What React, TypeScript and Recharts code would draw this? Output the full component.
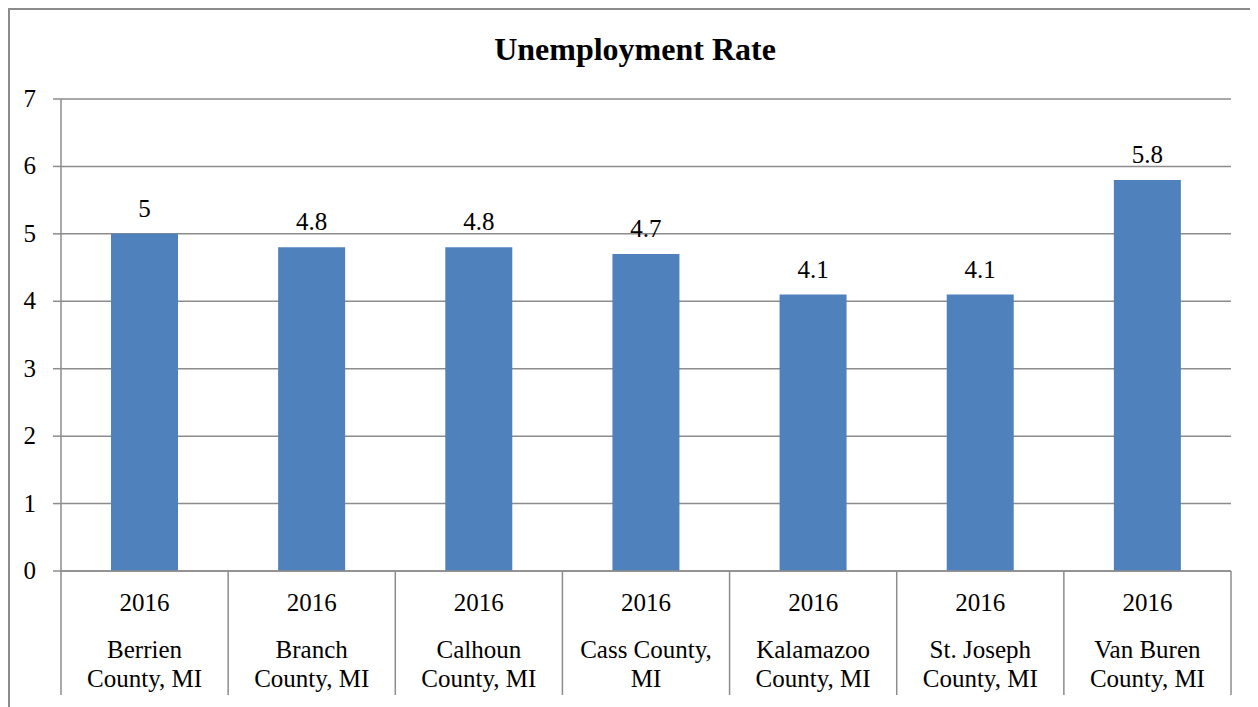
import { Bar, BarChart, CartesianGrid, LabelList, XAxis, YAxis } from "recharts";

const counties = [
  "Berrien\nCounty, MI",
  "Branch\nCounty, MI",
  "Calhoun\nCounty, MI",
  "Cass County,\nMI",
  "Kalamazoo\nCounty, MI",
  "St. Joseph\nCounty, MI",
  "Van Buren\nCounty, MI",
];
const years = ["2016", "2016", "2016", "2016", "2016", "2016", "2016"];
const rates = [5, 4.8, 4.8, 4.7, 4.1, 4.1, 5.8];
const yTicks = [0, 1, 2, 3, 4, 5, 6, 7];

const data = counties.map((name, i) => ({ name, year: years[i], rate: rates[i] }));

const W = 1250;
const H = 697;
const MARGIN = { top: 89, right: 29, bottom: 6, left: 0 };
const Y_AXIS_W = 51;
const PLOT_W = W - MARGIN.left - MARGIN.right - Y_AXIS_W;
const BAND = PLOT_W / counties.length;
const GRAY = "#8c8c8c";
const FONT = '"Liberation Serif", "Times New Roman", serif';

function CategoryTick(props: any) {
  const { x, y, index, payload } = props;
  const row = data[index];
  const lines = String(payload.value).split("\n");
  const left = x - BAND / 2;
  const right = x + BAND / 2;
  return (
    <g>
      <line x1={left} x2={left} y1={y} y2={y + 124} stroke={GRAY} strokeWidth={1.5} />
      {index === data.length - 1 && (
        <line x1={right} x2={right} y1={y} y2={y + 124} stroke={GRAY} strokeWidth={1.5} />
      )}
      <text x={x} y={y + 40} textAnchor="middle" fontSize={25} fill="#000" fontFamily={FONT}>
        {row ? row.year : ""}
      </text>
      {lines.map((ln, i) => (
        <text key={i} x={x} y={y + 87 + i * 29} textAnchor="middle" fontSize={25} fill="#000" fontFamily={FONT}>
          {ln}
        </text>
      ))}
    </g>
  );
}

function ValueTick(props: any) {
  const { x, y, payload } = props;
  return (
    <text x={x} y={y} dy={8} textAnchor="end" fontSize={25} fill="#000" fontFamily={FONT}>
      {payload.value}
    </text>
  );
}

function BarValue(props: any) {
  const { x, y, width, value } = props;
  return (
    <text x={Number(x) + Number(width) / 2} y={Number(y) - 17} textAnchor="middle" fontSize={25} fill="#000" fontFamily={FONT}>
      {value}
    </text>
  );
}

export default function App() {
  return (
    <div
      style={{
        position: "relative",
        width: 1262,
        height: 710,
        border: `2px solid ${GRAY}`,
        boxSizing: "border-box",
        background: "#fff",
        fontFamily: FONT,
      }}
    >
      <div
        style={{
          position: "absolute",
          top: 23,
          left: 0,
          width: W,
          textAlign: "center",
          fontSize: 32,
          lineHeight: "32px",
          fontWeight: "bold",
          color: "#000",
        }}
      >
        Unemployment Rate
      </div>
      <BarChart width={W} height={H} data={data} margin={MARGIN} barSize={67}>
        <CartesianGrid vertical={false} stroke={GRAY} strokeWidth={1.5} />
        <XAxis
          dataKey="name"
          interval={0}
          height={130}
          tickLine={false}
          tickSize={0}
          tickMargin={0}
          axisLine={{ stroke: GRAY, strokeWidth: 1.5 }}
          tick={<CategoryTick />}
        />
        <YAxis
          width={Y_AXIS_W}
          domain={[0, 7]}
          ticks={yTicks}
          interval={0}
          tickSize={8}
          tickMargin={17}
          tickLine={{ stroke: GRAY, strokeWidth: 1.5 }}
          axisLine={{ stroke: GRAY, strokeWidth: 1.5 }}
          tick={<ValueTick />}
        />
        <Bar dataKey="rate" fill="#4f81bd" isAnimationActive={false}>
          <LabelList dataKey="rate" content={<BarValue />} />
        </Bar>
      </BarChart>
    </div>
  );
}
